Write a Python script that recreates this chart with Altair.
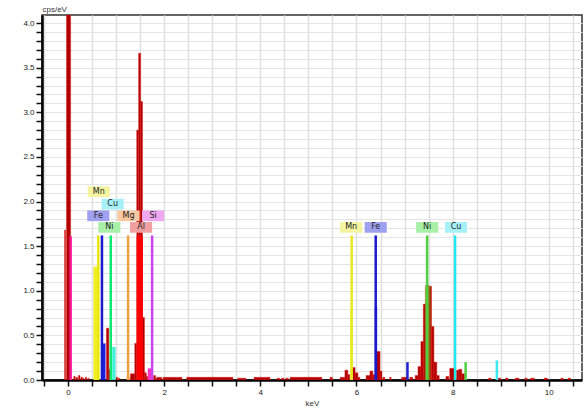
import altair as alt
import pandas as pd

# ---------------- data ----------------
# measured spectrum, histogram bins: lower edge, upper edge (keV), counts (cps/eV)
spec_lo = [-0.07, -0.03, 0.12, 0.17, 0.22, 0.27, 0.31, 0.36, 0.42,
           0.80, 0.85, 1.00, 1.05, 1.30, 1.39, 1.43, 1.47, 1.51, 1.55, 1.59, 1.63,
           1.78, 1.84, 1.98, 2.47, 3.53, 3.87, 4.35, 4.44, 4.53, 4.62,
           5.45, 5.66, 5.76, 5.82, 5.90, 5.97, 6.03,
           6.20, 6.28, 6.34, 6.42, 6.49, 6.55, 6.69, 6.94, 7.11,
           7.22, 7.28, 7.34, 7.39, 7.44, 7.50, 7.56, 7.61, 7.67,
           7.86, 7.94, 8.08, 8.13, 8.19,
           8.75, 8.92, 9.10, 9.30, 9.50, 9.62, 9.90, 10.25, 10.40]
spec_hi = [-0.05, 0.055, 0.15, 0.20, 0.25, 0.30, 0.33, 0.39, 0.44,
           0.85, 0.88, 1.03, 1.08, 1.39, 1.43, 1.47, 1.51, 1.55, 1.59, 1.63, 1.66,
           1.82, 1.95, 2.37, 3.43, 3.70, 4.20, 4.40, 4.49, 4.58, 5.28,
           5.50, 5.76, 5.82, 5.86, 5.97, 6.03, 6.07,
           6.28, 6.34, 6.38, 6.49, 6.53, 6.59, 6.72, 7.05, 7.17,
           7.28, 7.34, 7.39, 7.44, 7.50, 7.56, 7.61, 7.67, 7.72,
           7.92, 8.04, 8.13, 8.19, 8.25,
           8.80, 9.00, 9.15, 9.38, 9.55, 9.70, 9.97, 10.30, 10.45]
spec_val = [1.68, 9.0, 0.04, 0.03, 0.05, 0.03, 0.02, 0.03, 0.02,
            0.58, 0.12, 0.03, 0.02, 0.07, 0.41, 2.80, 3.66, 3.12, 0.70, 0.08, 0.04,
            0.05, 0.03, 0.03, 0.03, 0.02, 0.03, 0.02, 0.02, 0.02, 0.03,
            0.03, 0.03, 0.11, 0.06, 0.14, 0.08, 0.03,
            0.05, 0.10, 0.06, 0.32, 0.10, 0.03, 0.03, 0.03, 0.03,
            0.05, 0.15, 0.43, 0.85, 1.06, 1.05, 0.60, 0.20, 0.05,
            0.04, 0.13, 0.11, 0.12, 0.07,
            0.02, 0.02, 0.02, 0.02, 0.02, 0.02, 0.02, 0.02, 0.02]

# fitted element peaks (coloured fills)
fit_lo = [0.055, 0.53, 0.72, 0.92, 1.22, 1.43, 1.66, 5.87, 6.38, 7.42]
fit_hi = [0.080, 0.65, 0.78, 0.99, 1.29, 1.56, 1.76, 5.92, 6.43, 7.54]
fit_val = [0.20, 1.27, 0.41, 0.37, 0.03, 1.60, 0.13, 0.80, 0.82, 1.05]
fit_color = ["#f0a8d8", "#f0f020", "#1e1ee0", "#40f0d8", "#f0a050", "#ff0000",
             "#ff30c0", "#f0f020", "#1e1ee0", "#70c020"]
fit_opacity = [1, 1, 1, 1, 1, 1, 1, 1, 1, 0.5]

# element marker lines
line_keV = [0.055, 0.63, 0.707, 0.89, 1.25, 1.49, 1.75,
            5.90, 6.40, 7.47, 8.05, 7.06, 8.27, 8.92]
line_top = [1.61, 1.62, 1.62, 1.62, 1.62, 1.62, 1.62,
            1.62, 1.62, 1.62, 1.62, 0.20, 0.20, 0.22]
line_color = ["#ff1493", "#e8e810", "#1a1acc", "#10e870", "#f0a040", "#ff0000", "#cc44ee",
              "#e8e820", "#1a1acc", "#50d040", "#20e8f0", "#2020d0", "#50d040", "#40e8f0"]

# element labels
label_text = ["Mn", "Cu", "Fe", "Mg", "Si", "Ni", "Al", "Mn", "Fe", "Ni", "Cu"]
label_keV = [0.64, 0.93, 0.63, 1.26, 1.77, 0.86, 1.52, 5.89, 6.40, 7.47, 8.07]
label_cps = [2.11, 1.97, 1.84, 1.84, 1.84, 1.71, 1.71, 1.71, 1.71, 1.71, 1.71]
label_fill = ["#f4f4a0", "#a8f0f8", "#a0a0f0", "#f8c8a0", "#f0a8f0", "#a8f0a8",
              "#f0a0a0", "#f4f4a0", "#a0a0f0", "#a8f0a8", "#a8f0f8"]

x_ticks = [-0.5, 0, 0.5, 1, 1.5, 2, 2.5, 3, 3.5, 4, 4.5, 5, 5.5, 6, 6.5, 7, 7.5,
           8, 8.5, 9, 9.5, 10, 10.5]
y_ticks = [round(i * 0.1, 1) for i in range(41)]

# ---------------- frames ----------------
spec = pd.DataFrame({"lo": spec_lo, "hi": spec_hi, "val": spec_val})
fits = pd.DataFrame({"lo": fit_lo, "hi": fit_hi, "val": fit_val,
                     "c": fit_color, "op": fit_opacity})
lines = pd.DataFrame({"lo": line_keV, "val": line_top, "c": line_color})
labels = pd.DataFrame({"t": label_text, "lo": label_keV, "val": label_cps, "c": label_fill})

xs = alt.Scale(domain=[-0.54, 10.69], nice=False, zero=False)
ys = alt.Scale(domain=[0, 4.09], nice=False)

xaxis = alt.Axis(values=x_ticks, grid=True, gridColor="#e0e0e0", gridWidth=1.5,
                 labelExpr="datum.value % 2 == 0 ? format(datum.value, 'd') : ''",
                 labelOverlap=False, labelFontSize=8, labelColor="#222",
                 labelPadding=2, tickSize=6, tickWidth=1.5, tickColor="#111",
                 domainColor="#000", domainWidth=2.5,
                 title="keV", titleFontSize=8, titleFontWeight="normal",
                 titleColor="#333", titlePadding=3)
yaxis = alt.Axis(values=y_ticks, grid=True, gridColor="#e4e4e4", gridWidth=1,
                 labelExpr="abs(datum.value*2 - round(datum.value*2)) < 0.01 ? format(datum.value, '.1f') : ''",
                 labelOverlap=False, labelFontSize=8, labelColor="#222",
                 labelPadding=2, tickSize=6, tickWidth=1.5, tickColor="#111",
                 domainColor="#000", domainWidth=2.5,
                 title="cps/eV", titleAngle=0, titleAlign="left",
                 titleBaseline="bottom", titleX=0, titleY=-2,
                 titleFontSize=8, titleFontWeight="normal", titleColor="#333")


def X(f):
    return alt.X(f, type="quantitative", scale=xs, axis=xaxis, title="keV")


def Y(f):
    return alt.Y(f, type="quantitative", scale=ys, axis=yaxis, title="cps/eV")


spec_layer = alt.Chart(spec).mark_rect(
    color="#b00000", stroke="#e01818", strokeWidth=0.5, clip=True
).encode(x=X("lo"), x2="hi", y=Y("val"), y2=alt.datum(0))

fit_layer = alt.Chart(fits).mark_rect(clip=True).encode(
    x=X("lo"), x2="hi", y=Y("val"), y2=alt.datum(0),
    color=alt.Color("c:N", scale=None), opacity=alt.Opacity("op:Q", scale=None))

line_layer = alt.Chart(lines).mark_rule(strokeWidth=2.5, clip=True).encode(
    x=X("lo"), y=Y("val"), y2=alt.datum(0), color=alt.Color("c:N", scale=None))

box_layer = alt.Chart(labels).transform_calculate(
    x0="datum.lo - 0.23", x1="datum.lo + 0.23",
    y0="datum.val - 0.06", y1="datum.val + 0.06"
).mark_rect().encode(
    x=X("x0"), x2="x1", y=Y("y0"), y2="y1", color=alt.Color("c:N", scale=None))

text_layer = alt.Chart(labels).mark_text(
    fontSize=8, font="DejaVu Sans", color="#222", baseline="middle", align="center"
).encode(x=X("lo"), y=Y("val"), text="t:N")

chart = alt.layer(spec_layer, fit_layer, line_layer, box_layer, text_layer).properties(
    width=540, height=365,
    padding={"left": 42, "top": 15, "right": 5, "bottom": 32},
    autosize=alt.AutoSizeParams(type="none"),
    background="white",
).configure_view(stroke="#333", strokeWidth=1.5)

chart.save("out.html", embed_options={"renderer": "svg", "actions": False})
